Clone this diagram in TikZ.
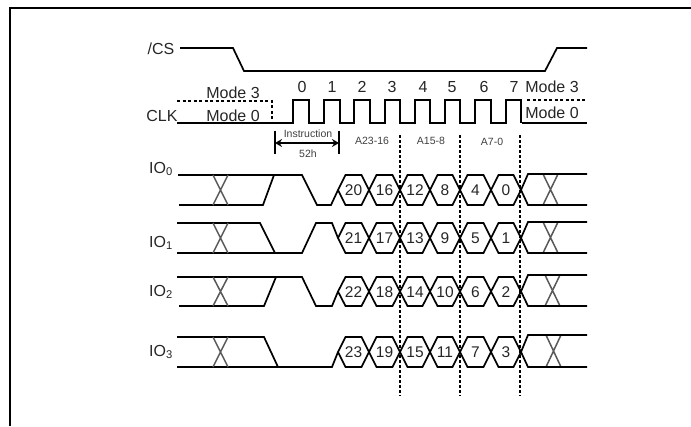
\documentclass[tikz,border=0pt]{standalone}
\usepackage{fontspec}
\setmainfont{Liberation Sans}
\usetikzlibrary{arrows.meta}
\tikzset{
  wave/.style={line width=1.7pt, black, line join=miter},
  xover/.style={line width=1.5pt, black!65},
  guide/.style={line width=1.5pt, dash pattern=on 2.5pt off 2.5pt},
  modedash/.style={line width=1.5pt, dash pattern=on 3pt off 2.5pt},
  bigtxt/.style={font=\fontsize{16}{16}\selectfont, text=black!85, inner sep=0pt},
  numtxt/.style={font=\fontsize{15.5}{16}\selectfont, text=black!85, inner sep=0pt},
  smalltxt/.style={font=\fontsize{10.5}{10}\selectfont, text=black!75, inner sep=0pt}
}
\begin{document}
\begin{tikzpicture}[x=1pt,y=-1pt]
    \useasboundingbox (0,0) rectangle (691,426);
    % Marco
    \draw[line width=2.2pt] (10,426) -- (10,8) -- (691,8);

    % /CS
    \node[bigtxt] (cslabel) at (161,49) {/CS};
    \draw[wave] (180,48) -- (233,48) -- (244,71) -- (545,71) -- (557,48) -- (587,48);

    % CLK
    \node[bigtxt] (clklabel) at (162,116) {CLK};
    \draw[modedash] (177,101) -- (272,101) -- (272,123);
    \draw[wave] (177,123) -- (293,123) -- (293,100) -- (309,100) -- (309,123) -- (324,123) -- (324,100) -- (340,100) -- (340,123)
        -- (354,123) -- (354,100) -- (370,100) -- (370,123) -- (385,123) -- (385,100) -- (400,100) -- (400,123)
        -- (415,123) -- (415,100) -- (430,100) -- (430,123) -- (445,123) -- (445,100) -- (460,100) -- (460,123)
        -- (475,123) -- (475,100) -- (491,100) -- (491,123) -- (506,123) -- (506,100) -- (521,100) -- (521,123);
    \draw[wave] (522,123) -- (587,123);
    \draw[modedash] (527,100) -- (587,100);
    \node[bigtxt] (modeleft3) at (233,93) {Mode 3};
    \node[bigtxt] (modeleft0) at (233,116) {Mode 0};
    \node[bigtxt] (moderight3) at (552,87) {Mode 3};
    \node[bigtxt] (moderight0) at (552,113) {Mode 0};
    \foreach \x/\n in {302/0, 332/1, 362/2, 392/3, 423/4, 452/5, 484/6, 514/7} {
        \node[bigtxt] (clk\n) at (\x,87) {\n};
    }

    % Instruction
    \coordinate (instA) at (275,143);
    \coordinate (instB) at (339,143);
    \draw[line width=1.4pt] (275,131) -- (275,154);
    \draw[line width=1.4pt] (339,131) -- (339,154);
    \draw[{Stealth[length=7pt,width=8pt]}-{Stealth[length=7pt,width=8pt]}, line width=1.4pt] (instA) -- (instB);
    \node[smalltxt] (insttxt) at (308,134) {Instruction};
    \node[smalltxt] (insthex) at (308,154) {52h};
    \node[smalltxt] (addrhigh) at (372,141) {A23-16};
    \node[smalltxt] (addrmid) at (431,141) {A15-8};
    \node[smalltxt] (addrlow) at (492,142) {A7-0};

    % Entradas IO
    \node[bigtxt, anchor=west] (iolabel0) at (149,169) {IO\textsubscript{0}};
    \node[bigtxt, anchor=west] (iolabel1) at (149,243) {IO\textsubscript{1}};
    \node[bigtxt, anchor=west] (iolabel2) at (149,292) {IO\textsubscript{2}};
    \node[bigtxt, anchor=west] (iolabel3) at (149,352) {IO\textsubscript{3}};

    % Tramo izquierdo
    \draw[wave] (178,175) -- (302,175) -- (317,205) -- (331,205) -- (338,190);
    \draw[wave] (179,205) -- (263,205) -- (274,175);
    \draw[wave] (177,223) -- (260,223) -- (275,253);
    \draw[wave] (177,253) -- (302,253) -- (316,223) -- (332,223) -- (338,238);
    \draw[wave] (177,277) -- (302,277) -- (316,306) -- (332,306) -- (338,291.5);
    \draw[wave] (179,306) -- (264,306) -- (276,277);
    \draw[wave] (177,337) -- (264,337) -- (278,367);
    \draw[wave] (177,367) -- (332,367) -- (338,352);

    % Cruces y tramo derecho, celdas de datos
    \foreach \yt/\yb/\rt/\k/\xa in {175/205/174/0/543, 223/253/222/1/543, 277/306/275/2/545, 337/367/335/3/546} {
        \pgfmathsetmacro{\ym}{(\yt+\yb)/2}
        \draw[xover] (213,\yt) -- (228,\yb) (228,\yt) -- (213,\yb);
        \draw[xover] (\xa,\rt) -- ({\xa+15},\yb) ({\xa+15},\rt) -- (\xa,\yb);
        \draw[wave] (521,\ym) -- (528,\rt) -- (587,\rt);
        \draw[wave] (521,\ym) -- (528,\yb) -- (587,\yb);
        \foreach \xl/\xr/\n in {338/369/20, 369/400/16, 400/430/12, 430/460/8, 460/491/4, 491/521/0} {
            \pgfmathtruncatemacro{\bitnum}{\n+\k}
            \draw[wave] (\xl,\ym) -- ({\xl+7.5},\yt) -- ({\xr-7.5},\yt) -- (\xr,\ym) -- ({\xr-7.5},\yb) -- ({\xl+7.5},\yb) -- cycle;
            \node[numtxt] (bit\bitnum) at ({(\xl+\xr)/2},{\ym+0.5}) {\bitnum};
        }
    }

    % Guias verticales
    \foreach \x in {400,460,520} {
        \draw[guide] (\x,135) -- (\x,396);
    }
\end{tikzpicture}
\end{document}
